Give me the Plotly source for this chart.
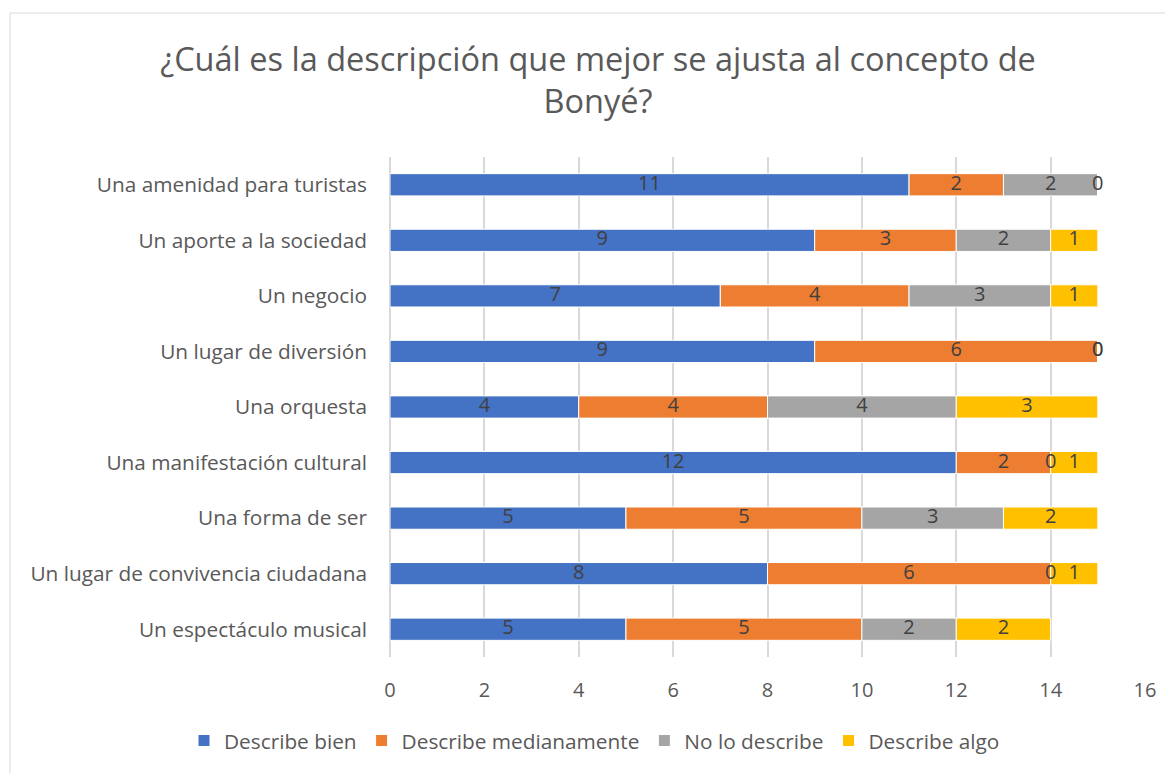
import plotly.graph_objects as go

categories = ["Un espectáculo musical", "Un lugar de convivencia ciudadana", "Una forma de ser",
              "Una manifestación cultural", "Una orquesta", "Un lugar de diversión",
              "Un negocio", "Un aporte a la sociedad", "Una amenidad para turistas"]
describe_bien = [5, 8, 5, 12, 4, 9, 7, 9, 11]
describe_medianamente = [5, 6, 5, 2, 4, 6, 4, 3, 2]
no_lo_describe = [2, 0, 3, 0, 4, 0, 3, 2, 2]
describe_algo = [2, 1, 2, 1, 3, 0, 1, 1, 0]
x_ticks = [0, 2, 4, 6, 8, 10, 12, 14, 16]

series = [("Describe bien", describe_bien, "#4472C4"),
          ("Describe medianamente", describe_medianamente, "#ED7D31"),
          ("No lo describe", no_lo_describe, "#A5A5A5"),
          ("Describe algo", describe_algo, "#FFC000")]

W, H = 1165, 765  # page has an 8px body margin

fig = go.Figure()
base = [0] * len(categories)
label_x, label_y, label_t = [], [], []
for name, vals, color in series:
    fig.add_trace(go.Bar(y=categories, x=vals, base=base, name=name, orientation="h",
                         marker=dict(color=color, line=dict(color="white", width=1)),
                         width=0.4))
    for i, v in enumerate(vals):
        label_x.append(base[i] + v / 2)
        label_y.append(categories[i])
        label_t.append(str(v))
    base = [b + v for b, v in zip(base, vals)]

# data labels (also shows the zero values like the original)
fig.add_trace(go.Scatter(x=label_x, y=label_y, text=label_t, mode="text", showlegend=False,
                         textfont=dict(size=20, color="#404040", family="Open Sans"),
                         hoverinfo="skip"))

fig.update_layout(
    width=W, height=H,
    barmode="overlay",
    plot_bgcolor="white", paper_bgcolor="white",
    font=dict(family="Open Sans", color="#595959"),
    margin=dict(l=382, r=28, t=149, b=116),
    title=dict(text="¿Cuál es la descripción que mejor se ajusta al concepto de<br>Bonyé?",
               xref="container", x=590 / W, xanchor="center",
               yref="container", y=1 - 63 / H, yanchor="top",
               font=dict(size=32.5, color="#595959", family="Open Sans")),
    legend=dict(orientation="h", xref="paper", x=(176 - 382) / 755, xanchor="left",
                yref="paper", y=(649 - 733) / 500, yanchor="middle",
                font=dict(size=20.8, color="#595959"), traceorder="normal",
                itemwidth=30),
    xaxis=dict(range=[0, 16], tickvals=x_ticks, showgrid=True, gridcolor="#D9D9D9", gridwidth=1.5,
               zeroline=True, zerolinecolor="#D9D9D9", zerolinewidth=1.5,
               tickfont=dict(size=20, color="#595959"), ticklabelstandoff=19),
    yaxis=dict(categoryorder="array", categoryarray=categories, showgrid=False,
               tickfont=dict(size=20.8, color="#595959"), ticklabelstandoff=22),
    shapes=[dict(type="rect", xref="paper", yref="paper",
                 x0=(2 - 382) / 755, x1=(1170 - 382) / 755,
                 y0=(649 - 770) / 500, y1=(649 - 5) / 500,
                 line=dict(color="#D9D9D9", width=1), layer="below")],
)

fig.write_html("out.html")
